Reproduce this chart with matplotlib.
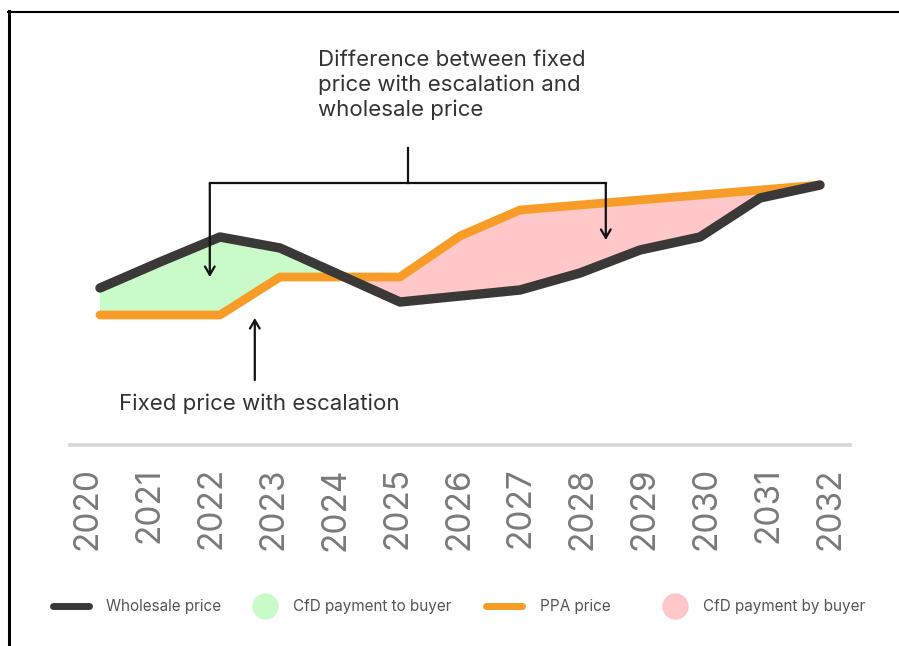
import matplotlib
matplotlib.use('Agg')
import matplotlib.pyplot as plt
from matplotlib.lines import Line2D
import numpy as np

# ---- data ----
years = list(range(2020, 2033))
wholesale = [31, 44, 56.5, 51, 37.5, 24, 27, 30, 38.5, 50, 56.5, 76, 82.5]
ppa = [17.5, 17.5, 17.5, 36.5, 36.5, 36.5, 57, 70, 72.5, 75, 77.5, 80, 82.5]
tick_labels = [str(y) for y in years]
legend_labels = ["Wholesale price", "CfD payment to buyer", "PPA price", "CfD payment by buyer"]
note_top = "Difference between fixed\nprice with escalation and\nwholesale price"
note_bottom = "Fixed price with escalation"

BLACK = '#3b3937'
ORANGE = '#f69c27'
GREEN = '#c8fbc8'
PINK = '#ffc7c7'

W, H = 899, 646
fig = plt.figure(figsize=(W / 100, H / 100), dpi=100)
fig.patch.set_facecolor('white')


def fx(px):
    return px / W


def fy(py):
    return 1 - py / H


pos = [fx(70), fy(445), (850 - 70) / W, (445 - 140) / H]
ax = fig.add_axes(pos)
ax.set_xlim(2019.5, 2032.5)
ax.set_ylim(-47.5, 105)
ax.patch.set_visible(False)
for s in ['top', 'right', 'left']:
    ax.spines[s].set_visible(False)
ax.spines['bottom'].set_color('#d8d8d8')
ax.spines['bottom'].set_linewidth(2.6)
ax.set_yticks([])
ax.set_xticks([])

w = np.array(wholesale)
p = np.array(ppa)
ax.fill_between(years, w, p, where=w >= p, interpolate=True, color=GREEN, lw=0, zorder=1)
ax.fill_between(years, w, p, where=w <= p, interpolate=True, color=PINK, lw=0, zorder=1)
ax.plot(years, ppa, color=ORANGE, lw=6.3, solid_capstyle='round', solid_joinstyle='round', zorder=3)
ax.plot(years, wholesale, color=BLACK, lw=6.8, solid_capstyle='round', solid_joinstyle='round', zorder=4)

# tick labels axis
ax2 = fig.add_axes(pos)
ax2.set_xlim(2019.71, 2032.32)
ax2.set_ylim(0, 1)
ax2.patch.set_visible(False)
for s in ax2.spines.values():
    s.set_visible(False)
ax2.set_yticks([])
ax2.set_xticks(years)
ax2.set_xticklabels(tick_labels, rotation=90, fontsize=24, color='#7a7a7a',
                    fontfamily='Inter', fontweight='normal')
ax2.tick_params(axis='x', length=0, pad=16)

# bracket annotation
ak = dict(color='#111111', lw=1.6)
xl, xm, xr = 2021.83, 2025.13, 2028.43
ax.plot([xl, xr], [83.5, 83.5], zorder=5, solid_capstyle='projecting', **ak)
ax.plot([xm, xm], [83.5, 101], zorder=5, **ak)
arrow = dict(arrowstyle='->,head_length=0.6,head_width=0.35', lw=1.6, color='#111111',
             shrinkA=0, shrinkB=0)
ax.annotate('', xy=(xl, 36.5), xytext=(xl, 83.5), arrowprops=arrow, zorder=6)
ax.annotate('', xy=(xr, 55), xytext=(xr, 83.5), arrowprops=arrow, zorder=6)
ax.annotate('', xy=(2022.58, 16), xytext=(2022.58, -15), arrowprops=arrow, zorder=6)

fig.text(fx(318), fy(50), note_top, ha='left', va='top', fontsize=16, color='#333333',
         linespacing=1.27, fontfamily='Inter')
fig.text(fx(119), fy(410), note_bottom, ha='left', va='baseline', fontsize=16, color='#333333',
         fontfamily='Inter')

# legend
ly = fy(606)
fig.add_artist(Line2D([fx(53), fx(89)], [ly, ly], lw=5, color=BLACK, solid_capstyle='round'))
fig.add_artist(Line2D([fx(265)], [ly], marker='o', markersize=18, color=GREEN, lw=0))
fig.add_artist(Line2D([fx(486), fx(522)], [ly, ly], lw=5, color=ORANGE, solid_capstyle='round'))
fig.add_artist(Line2D([fx(675)], [ly], marker='o', markersize=18, color=PINK, lw=0))
for xpx, lab in zip([106, 293, 540, 703], legend_labels):
    fig.text(fx(xpx), ly, lab, ha='left', va='center', fontsize=11, color='#555555',
             fontfamily='Inter')

# frame
fig.add_artist(Line2D([fx(8), fx(899)], [fy(11.5), fy(11.5)], lw=1.5, color='black'))
fig.add_artist(Line2D([fx(8.5), fx(8.5)], [fy(11), fy(646)], lw=2.2, color='black'))

fig.savefig('out.png', dpi=100)
